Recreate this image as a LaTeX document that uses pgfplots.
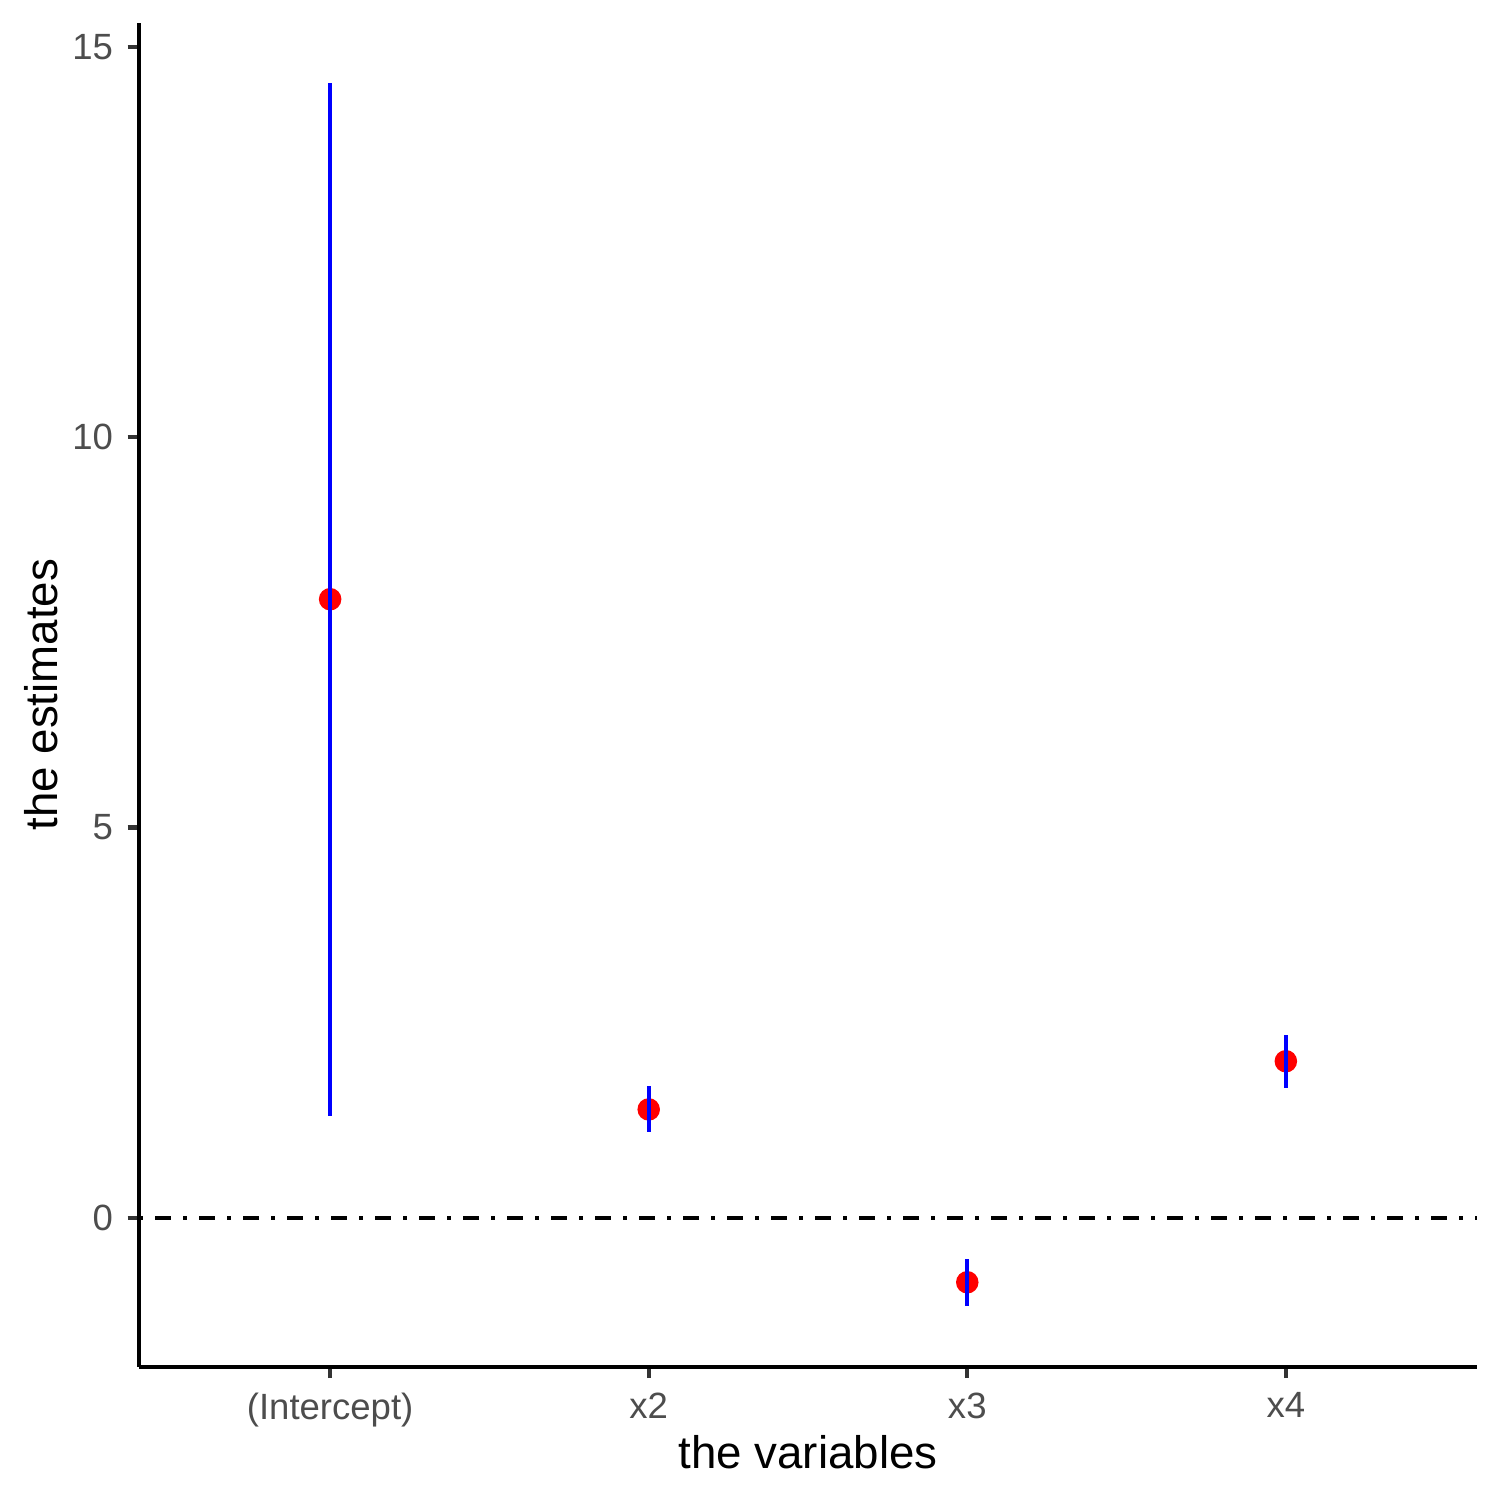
\documentclass[border=0pt]{standalone}
\usepackage{fontspec}
\setmainfont{Liberation Sans}
\usepackage{pgfplots}
\pgfplotsset{compat=1.18}
\definecolor{gray20}{HTML}{333333}
\definecolor{gray30}{HTML}{4D4D4D}
\begin{document}
\begin{tikzpicture}
\path[use as bounding box] (-33.36bp,-32bp) rectangle (326.64bp,328bp);
\begin{axis}[
  scale only axis,
  width=321.12bp, height=322.56bp,
  xmin=0.4, xmax=4.6,
  ymin=-1.905, ymax=15.31,
  axis x line*=bottom, axis y line*=left,
  axis line style={black, line width=1bp},
  xtick={1,2,3,4},
  xticklabels={(Intercept),x2,x3,x4},
  ytick={0,5,10,15},
  tick align=outside,
  major tick length=2.75pt,
  tick style={gray20, line width=1bp},
  ticklabel style={font=\fontsize{8.8}{10}\selectfont, text=gray30},
  /pgf/number format/assume math mode=true,
  xlabel={the variables},
  ylabel={the estimates},
  label style={font=\fontsize{11}{13}\selectfont},
  xlabel style={at={(axis description cs:0.5,-0.0635)}, anchor=center},
  ylabel style={at={(axis description cs:-0.0732,0.5)}, anchor=center},
  unbounded coords=jump,
  clip marker paths=true,
]

% reference line at zero
\addplot[mark=none, black, line width=1bp,
  dash pattern=on 0.96bp off 2.88bp on 3.84bp off 2.88bp]
  coordinates {(0.4,0) (4.6,0)};

% estimates (below the intervals)
\addplot[only marks, mark=*, mark size=2.5bp, red,
  mark options={draw=red, fill=red}]
  coordinates {(1,7.925) (2,1.39) (3,-0.824) (4,2.007)};

% intervals
\addplot[mark=none, blue, line width=1bp]
  coordinates {
  (1,1.31) (1,14.54) (1,nan)
  (2,1.105) (2,1.695) (2,nan)
  (3,-1.123) (3,-0.525) (3,nan)
  (4,1.669) (4,2.344)
  };

\end{axis}
\end{tikzpicture}
\end{document}
